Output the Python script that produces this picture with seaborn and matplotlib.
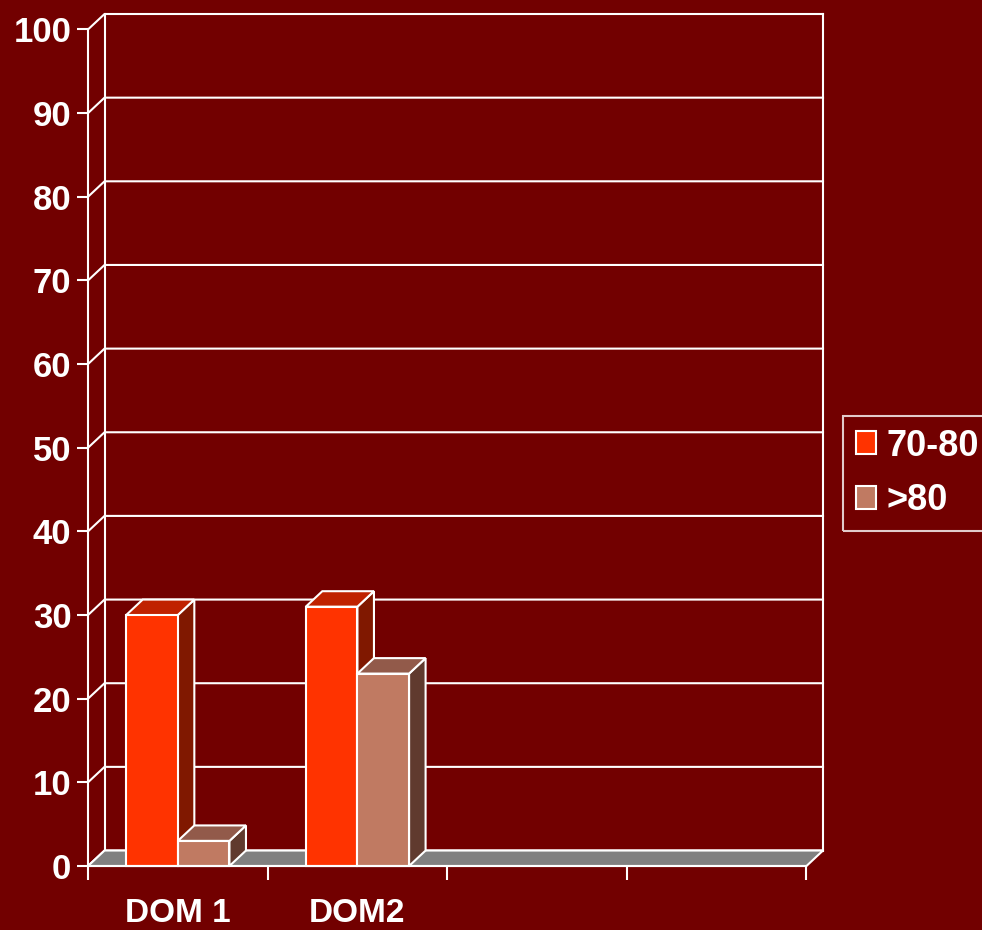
import matplotlib
matplotlib.use("Agg")
import matplotlib.pyplot as plt
from matplotlib.patches import Polygon, Patch
import pandas as pd
import seaborn as sns

# chart data
categories = ["DOM 1", "DOM2", "C3", "C4"]
tick_names = ["DOM 1", "DOM2", "", ""]
groups = ["70-80", ">80"]
values_7080 = [30, 31]
values_80 = [3, 23]
yticks = list(range(0, 101, 10))

# colours
bg = "#720000"
front_colors = {"70-80": "#ff3300", ">80": "#c07a62"}
top_colors = {"70-80": "#c02200", ">80": "#925a4a"}
side_colors = {"70-80": "#801800", ">80": "#603a2e"}
floor_color = "#808080"

df = pd.DataFrame({
    "cat": categories[:2] * 2,
    "group": [groups[0]] * 2 + [groups[1]] * 2,
    "value": values_7080 + values_80,
})

plt.rcParams["font.family"] = ["Liberation Sans", "DejaVu Sans"]
plt.rcParams["font.weight"] = "bold"

W, H = 982, 930
fig = plt.figure(figsize=(W / 100, H / 100), dpi=100, facecolor=bg)
ax = fig.add_axes([88 / W, (H - 866) / H, (823 - 88) / W, (866 - 14) / H])
ax.set_facecolor("none")

sns.barplot(data=df, x="cat", y="value", hue="group", order=categories,
            hue_order=groups, palette=front_colors, width=0.575, saturation=1,
            edgecolor="white", linewidth=1.5, legend=False, ax=ax)

# depth of the fake 3d box, in data units
dx = 0.092
dy = 1.85
lw = 1.5

# back wall, left wall diagonals and gridlines
for y in yticks:
    ax.plot([-0.5, -0.5 + dx, 3.5 + dx], [y, y + dy, y + dy],
            color="white", lw=lw, zorder=1, clip_on=False)
ax.plot([-0.5 + dx, -0.5 + dx], [dy, 100 + dy], color="white", lw=lw, zorder=1, clip_on=False)
ax.plot([3.5 + dx, 3.5 + dx], [dy, 100 + dy], color="white", lw=lw, zorder=1, clip_on=False)

# floor
floor = Polygon([(-0.5, 0), (3.5, 0), (3.5 + dx, dy), (-0.5 + dx, dy)],
                closed=True, facecolor=floor_color, edgecolor="white", lw=lw,
                zorder=2, clip_on=False)
ax.add_patch(floor)

# 3d tops and sides for each bar, drawn left to right
bars = []
for cont, g in zip(ax.containers, groups):
    for p in cont.patches:
        if p.get_height() > 0:
            bars.append((p, g))
bars.sort(key=lambda b: b[0].get_x())

z = 3
for p, g in bars:
    x0, w, h = p.get_x(), p.get_width(), p.get_height()
    side = Polygon([(x0 + w, 0), (x0 + w + dx, dy), (x0 + w + dx, h + dy), (x0 + w, h)],
                   closed=True, facecolor=side_colors[g], edgecolor="white", lw=lw,
                   zorder=z, clip_on=False)
    top = Polygon([(x0, h), (x0 + w, h), (x0 + w + dx, h + dy), (x0 + dx, h + dy)],
                  closed=True, facecolor=top_colors[g], edgecolor="white", lw=lw,
                  zorder=z, clip_on=False)
    ax.add_patch(side)
    ax.add_patch(top)
    p.set_zorder(z + 0.5)
    p.set_clip_on(False)
    z += 1

ax.set_xlim(-0.5, 3.5 + dx)
ax.set_ylim(0, 100 + dy)

for s in ["top", "right"]:
    ax.spines[s].set_visible(False)
for s in ["left", "bottom"]:
    ax.spines[s].set_color("white")
    ax.spines[s].set_linewidth(lw)
    ax.spines[s].set_zorder(20)
ax.spines["left"].set_bounds(0, 100)
ax.spines["bottom"].set_bounds(-0.5, 3.5)

ax.set_yticks(yticks)
ax.set_yticklabels([str(v) for v in yticks])
ax.tick_params(axis="y", colors="white", length=8, width=lw, pad=4, labelsize=25)

ax.set_xticks([-0.5, 0.5, 1.5, 2.5, 3.5])
ax.set_xticklabels([])
ax.set_xticks([0, 1, 2, 3], minor=True)
ax.set_xticklabels(tick_names, minor=True)
ax.tick_params(axis="x", which="major", colors="white", length=10, width=lw)
ax.tick_params(axis="x", which="minor", colors="white", length=0, pad=23, labelsize=24)
for t in ax.get_xticklabels(minor=True) + ax.get_yticklabels():
    t.set_fontweight("bold")
ax.set_xlabel("")
ax.set_ylabel("")

handles = [Patch(facecolor=front_colors[g], edgecolor="white", lw=lw, label=g) for g in groups]
leg = fig.legend(handles=handles, loc="upper left", bbox_to_anchor=(843 / W, 1 - 416 / H),
                 bbox_transform=fig.transFigure, borderaxespad=0, frameon=True,
                 fontsize=26, handlelength=0.55, handleheight=0.6, handletextpad=0.3,
                 labelspacing=0.55, borderpad=0.35, fancybox=False)
leg.get_frame().set_facecolor("none")
leg.get_frame().set_edgecolor("white")
leg.get_frame().set_linewidth(lw)
for t in leg.get_texts():
    t.set_color("white")
    t.set_fontweight("bold")

fig.savefig("out.png", dpi=100, facecolor=bg)
